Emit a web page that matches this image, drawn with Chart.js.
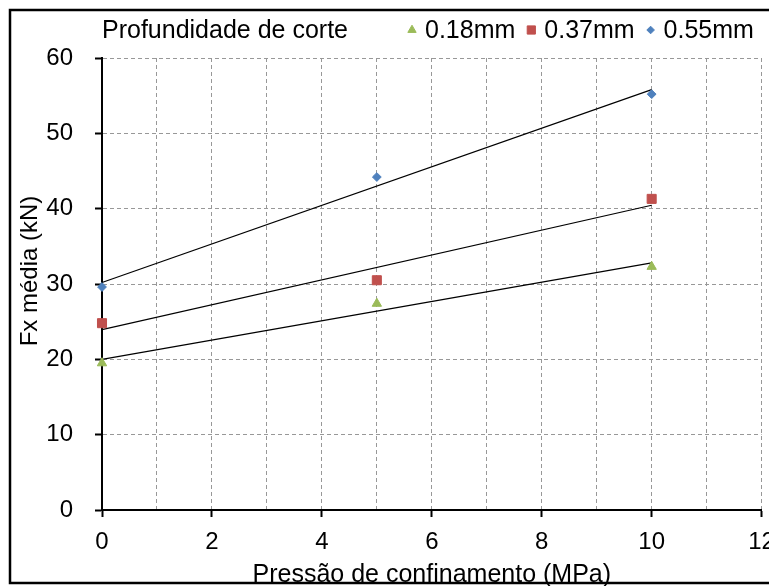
<!DOCTYPE html>
<html>
<head>
<meta charset="utf-8">
<title>Fx média x Pressão de confinamento</title>
<script src="https://cdn.jsdelivr.net/npm/chart.js"></script>
<style>
    html, body { margin: 0; padding: 0; background: #fff; }
    canvas { display: block; }
</style>
</head>
<body>
<canvas id="fxChart" width="769" height="586"></canvas>
<script>
// Pressão de confinamento (MPa)
const pressao = [0, 5, 10];

// Fx média (kN) para cada profundidade de corte
const fx018 = [19.5, 27.4, 32.3];
const fx037 = [24.8, 30.5, 41.3];
const fx055 = [29.6, 44.2, 55.2];

const serieLabels = ['0.18mm', '0.37mm', '0.55mm'];
const serieColors = ['#9BBB59', '#C0504D', '#4F81BD'];
const serieStyles = ['triangle', 'rect', 'rectRot'];
const serieRadius = [5.4, 6.4, 4.4];

const legendTitle = 'Profundidade de corte';
const xTitle = 'Pressão de confinamento (MPa)';
const yTitle = 'Fx média (kN)';

const FONT = "'Liberation Sans', Arial, sans-serif";

// regressão linear simples (linha de tendência)
function linearFit(xs, ys) {
    const n = xs.length;
    const mx = xs.reduce((a, b) => a + b, 0) / n;
    const my = ys.reduce((a, b) => a + b, 0) / n;
    let sxy = 0, sxx = 0;
    for (let i = 0; i < n; i++) {
        sxy += (xs[i] - mx) * (ys[i] - my);
        sxx += (xs[i] - mx) * (xs[i] - mx);
    }
    const slope = sxy / sxx;
    return { slope: slope, intercept: my - slope * mx };
}

function trendPoints(xs, ys) {
    const fit = linearFit(xs, ys);
    const x0 = Math.min(...xs);
    const x1 = Math.max(...xs);
    return [
        { x: x0, y: fit.intercept + fit.slope * x0 },
        { x: x1, y: fit.intercept + fit.slope * x1 }
    ];
}

const series = [fx018, fx037, fx055];

const markerDatasets = series.map((ys, i) => ({
    label: serieLabels[i],
    data: pressao.map((x, j) => ({ x: x, y: ys[j] })),
    pointStyle: serieStyles[i],
    pointRadius: serieRadius[i],
    pointHoverRadius: serieRadius[i],
    backgroundColor: serieColors[i],
    borderColor: serieColors[i],
    borderWidth: 1,
    showLine: false,
    clip: false
}));

const trendDatasets = series.map((ys, i) => ({
    label: 'tendência ' + serieLabels[i],
    data: trendPoints(pressao, ys),
    showLine: true,
    borderColor: '#000',
    borderWidth: 1.2,
    pointRadius: 0,
    pointHoverRadius: 0,
    fill: false,
    clip: false
}));

// legenda em linha, título do eixo Y e moldura do gráfico
const frameLegendPlugin = {
    id: 'frameLegend',
    afterDraw(chart) {
        const ctx = chart.ctx;
        ctx.save();

        ctx.font = `25px ${FONT}`;
        ctx.fillStyle = '#000';
        ctx.textBaseline = 'alphabetic';
        ctx.textAlign = 'left';
        ctx.fillText(legendTitle, 102, 38);

        let x = 412;
        const yMid = 30;
        serieLabels.forEach((label, i) => {
            ctx.fillStyle = serieColors[i];
            ctx.strokeStyle = serieColors[i];
            ctx.lineWidth = 1;
            Chart.helpers.drawPoint(ctx, {
                pointStyle: serieStyles[i],
                radius: serieRadius[i] - 0.6,
                rotation: 0,
                borderWidth: 1
            }, x, yMid);
            ctx.fillStyle = '#000';
            const tx = x + 13;
            ctx.fillText(label, tx, 38);
            x = tx + ctx.measureText(label).width + 16;
        });

        // título do eixo Y, um pouco acima do centro da área
        ctx.save();
        ctx.translate(30, 271);
        ctx.rotate(-Math.PI / 2);
        ctx.font = `24px ${FONT}`;
        ctx.textAlign = 'center';
        ctx.textBaseline = 'middle';
        ctx.fillStyle = '#000';
        ctx.fillText(yTitle, 0, 0);
        ctx.restore();

        ctx.strokeStyle = '#000';
        ctx.lineWidth = 2.5;
        ctx.beginPath();
        ctx.moveTo(chart.width + 2, 10);
        ctx.lineTo(10, 10);
        ctx.lineTo(10, 583);
        ctx.lineTo(chart.width + 2, 583);
        ctx.stroke();
        ctx.restore();
    }
};

Chart.defaults.color = '#000';
Chart.defaults.font.family = FONT;

const ctx = document.getElementById('fxChart').getContext('2d');
window.fxChart = new Chart(ctx, {
    type: 'scatter',
    data: {
        datasets: [...markerDatasets, ...trendDatasets]
    },
    options: {
        responsive: false,
        animation: false,
        events: [],
        layout: {
            padding: { left: 0, right: 7, top: 58, bottom: 0 }
        },
        plugins: {
            legend: { display: false },
            tooltip: { enabled: false }
        },
        scales: {
            x: {
                type: 'linear',
                min: 0,
                max: 12,
                afterFit(scale) {
                    scale.height = 76;
                    scale.paddingLeft = 0;
                    scale.paddingRight = 0;
                },
                ticks: {
                    stepSize: 1,
                    autoSkip: false,
                    maxRotation: 0,
                    padding: 11,
                    font: { size: 24 },
                    callback: v => (v % 2 === 0 ? v : '')
                },
                grid: {
                    color: '#989898',
                    lineWidth: 1,
                    tickLength: 7,
                    tickWidth: 2,
                    tickBorderDash: [],
                    tickColor: c => (c.tick && c.tick.value % 2 === 0 ? '#000' : 'rgba(0,0,0,0)')
                },
                border: {
                    color: '#000',
                    width: 2,
                    dash: [4, 3]
                },
                title: {
                    display: true,
                    text: xTitle,
                    font: { size: 25 },
                    padding: { top: 0, bottom: -4 }
                }
            },
            y: {
                type: 'linear',
                min: 0,
                max: 60,
                afterFit(scale) {
                    scale.width = 102;
                    scale.paddingTop = 0;
                    scale.paddingBottom = 0;
                },
                ticks: {
                    stepSize: 10,
                    padding: 22,
                    font: { size: 24 }
                },
                grid: {
                    color: '#989898',
                    lineWidth: 1,
                    tickLength: 7,
                    tickWidth: 2,
                    tickBorderDash: [],
                    tickColor: '#000'
                },
                border: {
                    color: '#000',
                    width: 2,
                    dash: [4, 3]
                },
                title: { display: false }
            }
        }
    },
    plugins: [frameLegendPlugin]
});
</script>
</body>
</html>
